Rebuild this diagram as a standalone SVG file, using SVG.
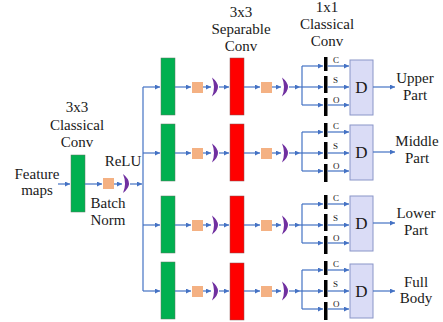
<svg xmlns="http://www.w3.org/2000/svg" width="443" height="322" viewBox="0 0 443 322">
<style>
text{font-family:"Liberation Serif","Times New Roman",serif;fill:#1a1a1a}
.lbl{font-size:15px;text-anchor:middle}
.sm{font-size:9px}
.dl{font-size:17px;text-anchor:middle}
.g{fill:#00b050;stroke:#5a7a60;stroke-width:0.5}
.r{fill:#ff0000;stroke:#8a5050;stroke-width:0.5}
.t{fill:#f4b183}
.c{fill:#7030a0}
.b{fill:#000}
.d{fill:#dadcf6;stroke:#8a96c8;stroke-width:1}
.ln{fill:none;stroke:#4472c4;stroke-width:1.2}
.a{marker-end:url(#ah)}
</style>
<defs>
<marker id="ah" markerUnits="userSpaceOnUse" markerWidth="6" markerHeight="6" refX="5" refY="2.5" orient="auto">
<path d="M0,0 L5,2.5 L0,5 Z" fill="#4472c4"/>
</marker>
<path id="cres" d="M0,-9.5 Q12,0 0,9.5 Q4,0 0,-9.5 Z"/>
</defs>

<g id="labels">
<text class="lbl" x="37" y="179">Feature</text>
<text class="lbl" x="37" y="195">maps</text>
<text class="lbl" x="77" y="112">3x3</text>
<text class="lbl" x="77" y="130">Classical</text>
<text class="lbl" x="77" y="147">Conv</text>
<text class="lbl" x="123" y="166">ReLU</text>
<text class="lbl" x="108" y="208">Batch</text>
<text class="lbl" x="108" y="225">Norm</text>
<text class="lbl" x="241" y="17">3x3</text>
<text class="lbl" x="241" y="34">Separable</text>
<text class="lbl" x="241" y="51">Conv</text>
<text class="lbl" x="327" y="12">1x1</text>
<text class="lbl" x="327" y="29">Classical</text>
<text class="lbl" x="327" y="46">Conv</text>
<text class="lbl" x="415" y="83">Upper</text>
<text class="lbl" x="415" y="100">Part</text>
<text class="lbl" x="417" y="146">Middle</text>
<text class="lbl" x="417" y="163">Part</text>
<text class="lbl" x="416" y="218">Lower</text>
<text class="lbl" x="416" y="235">Part</text>
<text class="lbl" x="416" y="287">Full</text>
<text class="lbl" x="416" y="303">Body</text>
</g>

<g id="stem">
<rect class="g" x="71" y="155" width="14" height="57"/>
<rect class="t" x="103" y="178" width="11" height="11"/>
<use href="#cres" class="c" x="123" y="183.5"/>
</g>

<g id="row1">
<rect class="g" x="161" y="58" width="14" height="57"/>
<rect class="t" x="192" y="82" width="11" height="11"/>
<use href="#cres" class="c" x="212" y="87"/>
<rect class="r" x="230" y="58" width="14" height="57"/>
<rect class="t" x="261" y="82" width="11" height="11"/>
<use href="#cres" class="c" x="282" y="87"/>
<rect class="b" x="324" y="57" width="3.5" height="14"/>
<rect class="b" x="324" y="76" width="3.5" height="17"/>
<rect class="b" x="324" y="98" width="3.5" height="18"/>
<text class="sm" x="333" y="63">C</text>
<text class="sm" x="333" y="83">S</text>
<text class="sm" x="333" y="103">O</text>
<rect class="d" x="350" y="60" width="23" height="55"/>
<text class="dl" x="361.5" y="93">D</text>
</g>

<g id="row2">
<rect class="g" x="161" y="124" width="14" height="57"/>
<rect class="t" x="192" y="148" width="11" height="11"/>
<use href="#cres" class="c" x="212" y="153"/>
<rect class="r" x="230" y="124" width="14" height="57"/>
<rect class="t" x="261" y="148" width="11" height="11"/>
<use href="#cres" class="c" x="282" y="153"/>
<rect class="b" x="324" y="123" width="3.5" height="14"/>
<rect class="b" x="324" y="142" width="3.5" height="17"/>
<rect class="b" x="324" y="164" width="3.5" height="18"/>
<text class="sm" x="333" y="129">C</text>
<text class="sm" x="333" y="149">S</text>
<text class="sm" x="333" y="169">O</text>
<rect class="d" x="350" y="125" width="23" height="55"/>
<text class="dl" x="361.5" y="158">D</text>
</g>

<g id="row3">
<rect class="g" x="161" y="196" width="14" height="57"/>
<rect class="t" x="192" y="220" width="11" height="11"/>
<use href="#cres" class="c" x="212" y="225"/>
<rect class="r" x="230" y="196" width="14" height="57"/>
<rect class="t" x="261" y="220" width="11" height="11"/>
<use href="#cres" class="c" x="282" y="225"/>
<rect class="b" x="324" y="195" width="3.5" height="14"/>
<rect class="b" x="324" y="214" width="3.5" height="17"/>
<rect class="b" x="324" y="236" width="3.5" height="18"/>
<text class="sm" x="333" y="201">C</text>
<text class="sm" x="333" y="221">S</text>
<text class="sm" x="333" y="241">O</text>
<rect class="d" x="350" y="196" width="23" height="55"/>
<text class="dl" x="361.5" y="229">D</text>
</g>

<g id="row4">
<rect class="g" x="161" y="262" width="14" height="57"/>
<rect class="t" x="192" y="286" width="11" height="11"/>
<use href="#cres" class="c" x="212" y="291"/>
<rect class="r" x="230" y="263" width="14" height="57"/>
<rect class="t" x="261" y="286" width="11" height="11"/>
<use href="#cres" class="c" x="282" y="291"/>
<rect class="b" x="324" y="261" width="3.5" height="14"/>
<rect class="b" x="324" y="280" width="3.5" height="17"/>
<rect class="b" x="324" y="302" width="3.5" height="18"/>
<text class="sm" x="333" y="267">C</text>
<text class="sm" x="333" y="287">S</text>
<text class="sm" x="333" y="307">O</text>
<rect class="d" x="350" y="264" width="23" height="54"/>
<text class="dl" x="361.5" y="297">D</text>
</g>

<g id="connectors">
<path class="ln a" d="M58,184 H70"/>
<path class="ln a" d="M85,184 H102"/>
<path class="ln a" d="M114,184 H122"/>
<path class="ln a" d="M130,184 H142"/>
<path class="ln" d="M143,87 V291"/>
<path class="ln a" d="M143,87 H160"/><path class="ln a" d="M175,87 H191"/><path class="ln a" d="M203,87 H211"/><path class="ln a" d="M219,87 H229"/><path class="ln a" d="M244,87 H260"/><path class="ln a" d="M272,87 H281"/><path class="ln a" d="M289,87 H300"/>
<path class="ln" d="M302,66 V105"/><path class="ln a" d="M300,87 H323"/><path class="ln a" d="M302,66 H323"/><path class="ln a" d="M302,105 H323"/>
<path class="ln a" d="M327.5,66 H349"/><path class="ln a" d="M327.5,87 H349"/><path class="ln a" d="M327.5,105 H349"/><path class="ln a" d="M373,87 H395"/>

<path class="ln a" d="M143,153 H160"/><path class="ln a" d="M175,153 H191"/><path class="ln a" d="M203,153 H211"/><path class="ln a" d="M219,153 H229"/><path class="ln a" d="M244,153 H260"/><path class="ln a" d="M272,153 H281"/><path class="ln a" d="M289,153 H300"/>
<path class="ln" d="M302,132 V171"/><path class="ln a" d="M300,153 H323"/><path class="ln a" d="M302,132 H323"/><path class="ln a" d="M302,171 H323"/>
<path class="ln a" d="M327.5,132 H349"/><path class="ln a" d="M327.5,153 H349"/><path class="ln a" d="M327.5,171 H349"/><path class="ln a" d="M373,152 H395"/>

<path class="ln a" d="M143,225 H160"/><path class="ln a" d="M175,225 H191"/><path class="ln a" d="M203,225 H211"/><path class="ln a" d="M219,225 H229"/><path class="ln a" d="M244,225 H260"/><path class="ln a" d="M272,225 H281"/><path class="ln a" d="M289,225 H300"/>
<path class="ln" d="M302,204 V243"/><path class="ln a" d="M300,225 H323"/><path class="ln a" d="M302,204 H323"/><path class="ln a" d="M302,243 H323"/>
<path class="ln a" d="M327.5,204 H349"/><path class="ln a" d="M327.5,225 H349"/><path class="ln a" d="M327.5,243 H349"/><path class="ln a" d="M373,223 H395"/>

<path class="ln a" d="M143,291 H160"/><path class="ln a" d="M175,291 H191"/><path class="ln a" d="M203,291 H211"/><path class="ln a" d="M219,291 H229"/><path class="ln a" d="M244,291 H260"/><path class="ln a" d="M272,291 H281"/><path class="ln a" d="M289,291 H300"/>
<path class="ln" d="M302,270 V309"/><path class="ln a" d="M300,291 H323"/><path class="ln a" d="M302,270 H323"/><path class="ln a" d="M302,309 H323"/>
<path class="ln a" d="M327.5,270 H349"/><path class="ln a" d="M327.5,291 H349"/><path class="ln a" d="M327.5,309 H349"/><path class="ln a" d="M373,291 H395"/>
</g>
</svg>
